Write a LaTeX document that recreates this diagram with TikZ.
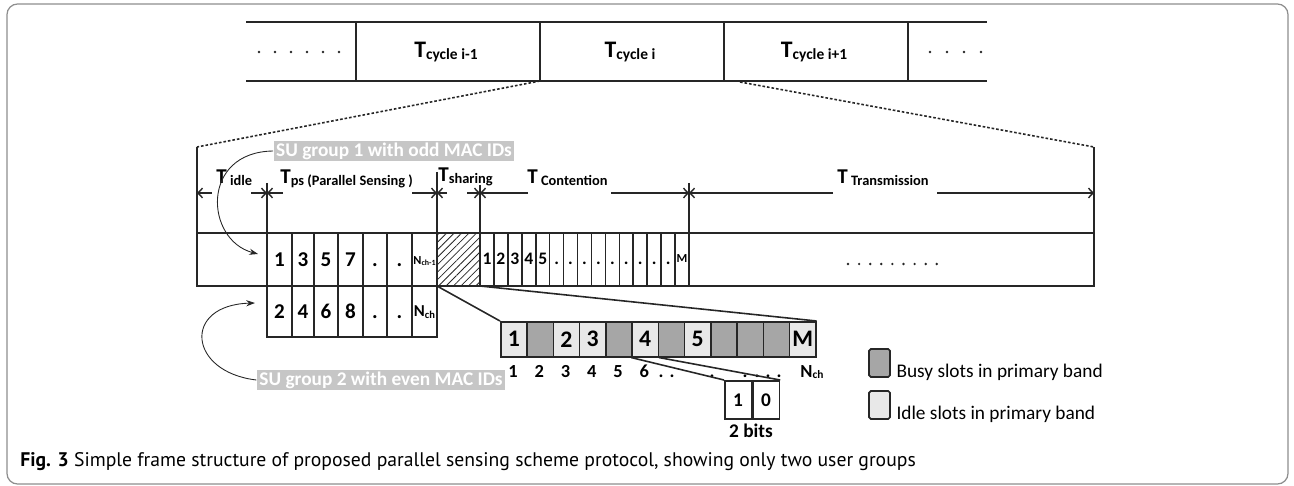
\documentclass[tikz,border=0pt]{standalone}
\usepackage{fontspec}
\setmainfont{Carlito}
\newfontfamily\capfont{PT Sans}
\usetikzlibrary{arrows.meta,patterns.meta,positioning,calc}

\definecolor{framegray}{HTML}{8E8E8E}
\definecolor{ink}{HTML}{262626}
\definecolor{busygray}{HTML}{A6A6A6}
\definecolor{idlegray}{HTML}{E8E8E8}
\definecolor{sugray}{HTML}{C6C6C6}

\tikzstyle{cell}      = [draw=ink, line width=0.9pt]
\tikzstyle{dimarrow}  = [ink, line width=0.8pt, -{Straight Barb[length=2.6pt,width=5.5pt]}]
\tikzstyle{zoomline}  = [ink, line width=0.9pt, dash pattern=on 1.5pt off 1.1pt]
\tikzstyle{sulabel}   = [fill=sugray, text=white, font=\bfseries\fontsize{11}{11}\selectfont, inner xsep=1.5pt, inner ysep=1pt]
\tikzstyle{curvearrow}= [ink, line width=0.5pt, -{Stealth[length=5pt,width=3.5pt]}]
\tikzstyle{tlabel}    = [font=\bfseries, anchor=base west, inner sep=0pt]
\tikzstyle{bigdig}    = [font=\bfseries\fontsize{12}{12}\selectfont, inner sep=0pt, text height=7.6pt, text depth=0pt]
\tikzstyle{ctdig}     = [font=\bfseries\fontsize{10}{10}\selectfont, inner sep=0pt, text height=6.3pt, text depth=0pt]
\tikzstyle{idxdig}    = [font=\bfseries\fontsize{10.5}{10.5}\selectfont, inner sep=0pt, text height=6.6pt, text depth=0pt]
\tikzstyle{slot}      = [draw=ink, line width=0.9pt, minimum width=0.525cm, minimum height=0.7cm, anchor=north west, inner sep=0pt, font=\bfseries\fontsize{13.5}{13.5}\selectfont]
\tikzstyle{legbox}    = [draw=ink, line width=1pt, rounded corners=1pt, minimum width=0.42cm, minimum height=0.56cm, inner sep=0pt]
\tikzstyle{legtxt}    = [font=\fontsize{11}{11}\selectfont, anchor=base west, inner sep=0pt]

\newcommand{\Tlab}[3]{{\fontsize{#1}{#1}\selectfont T}\raisebox{-1pt}{\fontsize{#2}{#2}\selectfont #3}}
\newcommand{\Nsub}[3]{{\fontsize{#1}{#1}\selectfont N}\raisebox{-1pt}{\fontsize{#2}{#2}\selectfont #3}}

\begin{document}
\begin{tikzpicture}[x=0.02cm, y=-0.02cm]
\useasboundingbox (0,0) rectangle (1294,486);
\draw[framegray, line width=0.7pt, rounded corners=6pt] (7,4) rectangle (1288,484);

% cycle row
\draw[cell, line width=1pt] (246,22) -- (987,22) (246,81) -- (987,81);
\foreach \x in {356,540,724,908} \draw[cell, line width=1pt] (\x,22) -- (\x,81);
\foreach \x in {259,275,...,340} \fill[ink] (\x,52) circle[radius=0.8pt];
\foreach \x in {930,947,...,982} \fill[ink] (\x,52) circle[radius=0.8pt];
\node[font=\bfseries] (cprev) at (446,52) {\Tlab{13.5}{8.8}{cycle i-1}};
\node[font=\bfseries] (ccur)  at (630,52) {\Tlab{13.5}{8.8}{cycle i}};
\node[font=\bfseries] (cnext) at (814,52) {\Tlab{13.5}{8.8}{cycle i+1}};
\coordinate (ccurSW) at (540,81);
\coordinate (ccurSE) at (740,82);

% zoomed frame
\coordinate (fL) at (197,147);
\coordinate (fR) at (1094,147);
\draw[zoomline] (ccurSW) -- (fL);
\draw[zoomline] (ccurSE) -- (fR);
\draw[cell] (fL) -- (197,286) -- (1094,286) -- (fR);
\draw[cell] (197,233) -- (1094,233);

% parallel sensing slots
\foreach \xa/\xb/\up/\dn [count=\i] in {267/292/1/2,292/314/3/4,314/338/5/6,338/363/7/8,363/387/./.,387/412/./.}{
  \draw[cell] (\xa,233) rectangle (\xb,337) (\xa,286) -- (\xb,286);
  \node[bigdig] (up\i) at ({(\xa+\xb)/2},260) {\up};
  \node[bigdig] (dn\i) at ({(\xa+\xb)/2},312) {\dn};
}
\draw[cell] (412,233) rectangle (437,337) (412,286) -- (437,286);
\node[font=\bfseries, inner sep=0pt] (up7) at (424.5,261) {\Nsub{7}{4.5}{ch-1}};
\node[font=\bfseries, inner sep=0pt] (dn7) at (424.5,312) {\Nsub{9.5}{6}{ch}};

% sharing
\draw[cell, pattern={Lines[angle=45,distance=3pt,line width=0.45pt]}, pattern color=ink] (437,233) rectangle (480,286);
\coordinate (shSW) at (437,286);
\coordinate (shSE) at (480,286);

% contention slots
\foreach \i in {0,...,14} \draw[cell] ({480+13.933*\i},233) rectangle ++(13.933,53);
\foreach \lab [count=\i from 0] in {1,2,3,4,5,.,.,.,.,.,.,.,.,.}
  \node[ctdig] (ct\i) at ({486.97+13.933*\i},259) {\lab};
\node[font=\bfseries\fontsize{7}{7}\selectfont, inner sep=0pt] (ct14) at (682,259) {M};

% transmission
\foreach \i in {0,...,8} \fill[ink] ({848+11.1*\i},264) circle[radius=0.75pt];

% boundaries
\coordinate (b0) at (197,193);
\coordinate (b1) at (267,193);
\coordinate (b2) at (437,193);
\coordinate (b3) at (480,193);
\coordinate (b4) at (689,193);
\coordinate (b5) at (1094,193);
\draw[cell] (267,183) -- (267,233);
\draw[cell] (437,172) -- (437,233);
\draw[cell] (480,185) -- (480,233);
\draw[cell] (689,183) -- (689,233);
\draw[dimarrow] ($(b0)+(15,0)$) -- (b0);
\draw[dimarrow] ($(b1)-(16,0)$) -- (b1);
\draw[dimarrow] ($(b1)+(16,0)$) -- (b1);
\draw[dimarrow] ($(b2)-(25,0)$) -- (b2);
\draw[dimarrow] ($(b2)+(10,0)$) -- (b2);
\draw[dimarrow] ($(b3)-(13,0)$) -- (b3);
\draw[dimarrow] ($(b3)+(48,0)$) -- (b3);
\draw[dimarrow] ($(b4)-(78,0)$) -- (b4);
\draw[dimarrow] ($(b4)+(144,0)$) -- (b4);
\draw[dimarrow] ($(b5)-(157,0)$) -- (b5);
\node[tlabel] (tidle) at (216,184) {\Tlab{12}{8.2}{\ idle}};
\node[tlabel] (tps)   at (280,184) {\Tlab{12}{8.2}{ps (Parallel Sensing )}};
\node[tlabel] (tsh)   at (438,182) {\Tlab{12}{8.2}{sharing}};
\node[tlabel] (tct)   at (527,184) {\Tlab{12}{8.2}{\ Contention}};
\node[tlabel] (ttr)   at (837,184) {\Tlab{12}{8.2}{\ Transmission}};

% user groups
\node[sulabel] (su1) at (394,151) {SU group 1 with odd MAC IDs};
\node[sulabel] (su2) at (381,380) {SU group 2 with even MAC IDs};
\coordinate (up1in) at (258,254);
\coordinate (dn1in) at (255,303);
\draw[curvearrow] (su1.west) .. controls (200,152) and (205,240) .. (up1in);
\draw[curvearrow] (su2.west) .. controls (188,372) and (182,305) .. (dn1in);

% sharing slots
\foreach \lab/\col [count=\i from 0] in {1/idlegray,/busygray,2/idlegray,3/idlegray,/busygray,4/idlegray,/busygray,5/idlegray,/busygray,/busygray,/busygray,M/idlegray}
  \node[slot, fill=\col] (sl\i) at ({500+26.25*\i},321) {\lab};
\draw[cell] (shSW) -- (sl0.north west);
\draw[cell] (shSE) -- (sl11.north east);
\foreach \n [count=\i from 0] in {1,...,6}
  \node[idxdig] (ix\i) at ({513.1+26.25*\i},372) {\n};
\foreach \x [count=\j] in {661,672,712,745,757,768,779}
  \node[idxdig] (ixd\j) at (\x,372) {.};
\node[font=\bfseries, inner sep=0pt] (ixN) at (812,372) {\Nsub{10.5}{6.5}{ch}};

% two bits
\node[slot, fill=white, minimum width=0.53cm, minimum height=0.76cm, font=\bfseries\fontsize{11}{11}\selectfont] (bit1) at (724,380) {1};
\node[slot, fill=white, minimum width=0.53cm, minimum height=0.76cm, font=\bfseries\fontsize{11}{11}\selectfont, right=0pt of bit1] (bit0) {0};
\draw[cell] (sl5.south west) -- (bit1.north west);
\draw[cell] (sl5.south east) -- (bit0.north east);
\node[font=\bfseries\fontsize{11}{11}\selectfont, inner sep=0pt] (bits) at (751,431) {2 bits};

% legend
\node[legbox, fill=busygray] (lbusy) at (879.5,363) {};
\node[legbox, fill=idlegray] (lidle) at (879.5,405) {};
\node[legtxt] (tbusy) at ([xshift=3pt]lbusy.south east) {Busy slots in primary band};
\node[legtxt] (tidl)  at ([xshift=3pt]lidle.south east) {Idle slots in primary band};

% caption
\node[anchor=base west, inner sep=0pt, font=\capfont\fontsize{11.2}{11.2}\selectfont] (cap) at (20,466) {\textbf{Fig. 3} Simple frame structure of proposed parallel sensing scheme protocol, showing only two user groups};
\end{tikzpicture}
\end{document}
